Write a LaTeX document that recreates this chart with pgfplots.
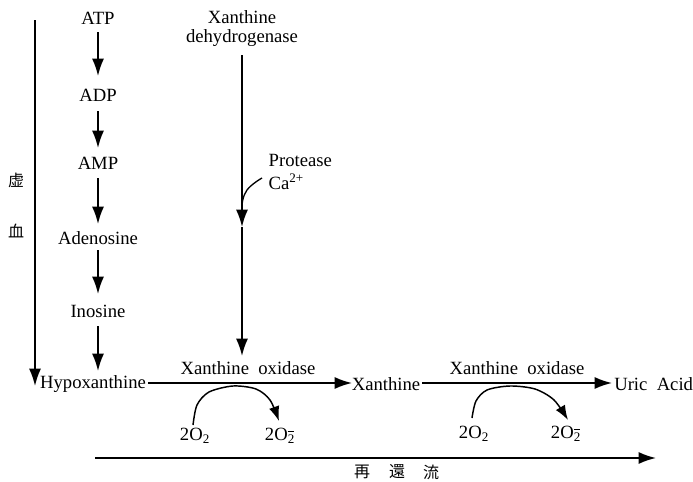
\documentclass[border=0pt]{standalone}
\usepackage{fontspec}
\setmainfont{Liberation Serif}
\newfontfamily\cjk{Noto Sans CJK JP}
\usepackage{pgfplots}
\pgfplotsset{compat=1.18}
\usetikzlibrary{arrows.meta}
\newcommand{\superox}{2O\textsubscript{2}\llap{\raisebox{1.05ex}{\rule{0.32em}{0.55pt}}\hspace{0.08em}}}
\begin{document}
\begin{tikzpicture}[font=\fontsize{14}{16}\selectfont]
\begin{axis}[
  width=519.75pt, height=361.5pt, scale only axis,
  xmin=0, xmax=693, ymin=0, ymax=482, y dir=reverse,
  axis lines=none, clip=false,
]
\pgfplotsset{
  arr/.style={black, line width=1.3pt, -{Latex[length=13pt,width=9pt]}},
  thinarr/.style={black, line width=1.1pt, -{Latex[length=11pt,width=8pt]}},
}
% left ischemia arrow
\addplot[arr] coordinates {(35,20) (35,386)};
\node[font=\fontsize{12}{14}\cjk] at (axis cs:16,180) {虚};
\node[font=\fontsize{12}{14}\cjk] at (axis cs:16,231) {血};
% left column
\node at (axis cs:98,18) {ATP};
\node at (axis cs:98,95) {ADP};
\node at (axis cs:98,163) {AMP};
\node at (axis cs:98,238) {Adenosine};
\node at (axis cs:98,311) {Inosine};
\node at (axis cs:93,384) {Hypoxanthine};
\addplot[arr] coordinates {(98,32) (98,76)};
\addplot[arr] coordinates {(98,111) (98,148)};
\addplot[arr] coordinates {(98,178) (98,224)};
\addplot[arr] coordinates {(98,250) (98,294)};
\addplot[arr] coordinates {(98,326) (98,371)};
% xanthine dehydrogenase
\node at (axis cs:242,17) {Xanthine};
\node at (axis cs:242,38) {dehydrogenase};
\addplot[arr] coordinates {(242,55) (242,227)};
\addplot[arr] coordinates {(242,227) (242,356)};
\node[anchor=west] at (axis cs:264,160) {Protease};
\node[anchor=west] at (axis cs:264,182) {Ca\textsuperscript{2+}};
\addplot[black, line width=1pt, smooth, tension=0.8] coordinates {(242,205) (247,190) (262,178)};
% horizontal chain
\addplot[arr] coordinates {(148,383) (352,383)};
\node at (axis cs:386,384) {Xanthine};
\addplot[arr] coordinates {(422,383) (612,383)};
\node[anchor=west, inner sep=1.5pt] at (axis cs:612,384) {Uric~ Acid};
\node at (axis cs:248,368) {Xanthine~ oxidase};
\node at (axis cs:517,368) {Xanthine~ oxidase};
% curved arrows
\addplot[thinarr, smooth, tension=0.5] coordinates {(193,425) (197,405) (209,392) (233,386) (256,389) (270,400) (279,421)};
\addplot[thinarr, smooth, tension=0.5] coordinates {(472,418) (476,401) (487,390) (510,386) (535,389) (554,400) (568,420)};
\node at (axis cs:195,436) {2O\textsubscript{2}};
\node at (axis cs:280,436) {\superox};
\node at (axis cs:474,434) {2O\textsubscript{2}};
\node at (axis cs:566,434) {\superox};
% reperfusion arrow
\addplot[arr] coordinates {(95,458) (656,458)};
\node[font=\fontsize{12}{14}\cjk] at (axis cs:362,472) {再};
\node[font=\fontsize{12}{14}\cjk] at (axis cs:397,472) {還};
\node[font=\fontsize{12}{14}\cjk] at (axis cs:431,472) {流};
\end{axis}
\pgfresetboundingbox
\useasboundingbox (current axis.south west) rectangle (current axis.north east);
\end{tikzpicture}
\end{document}
